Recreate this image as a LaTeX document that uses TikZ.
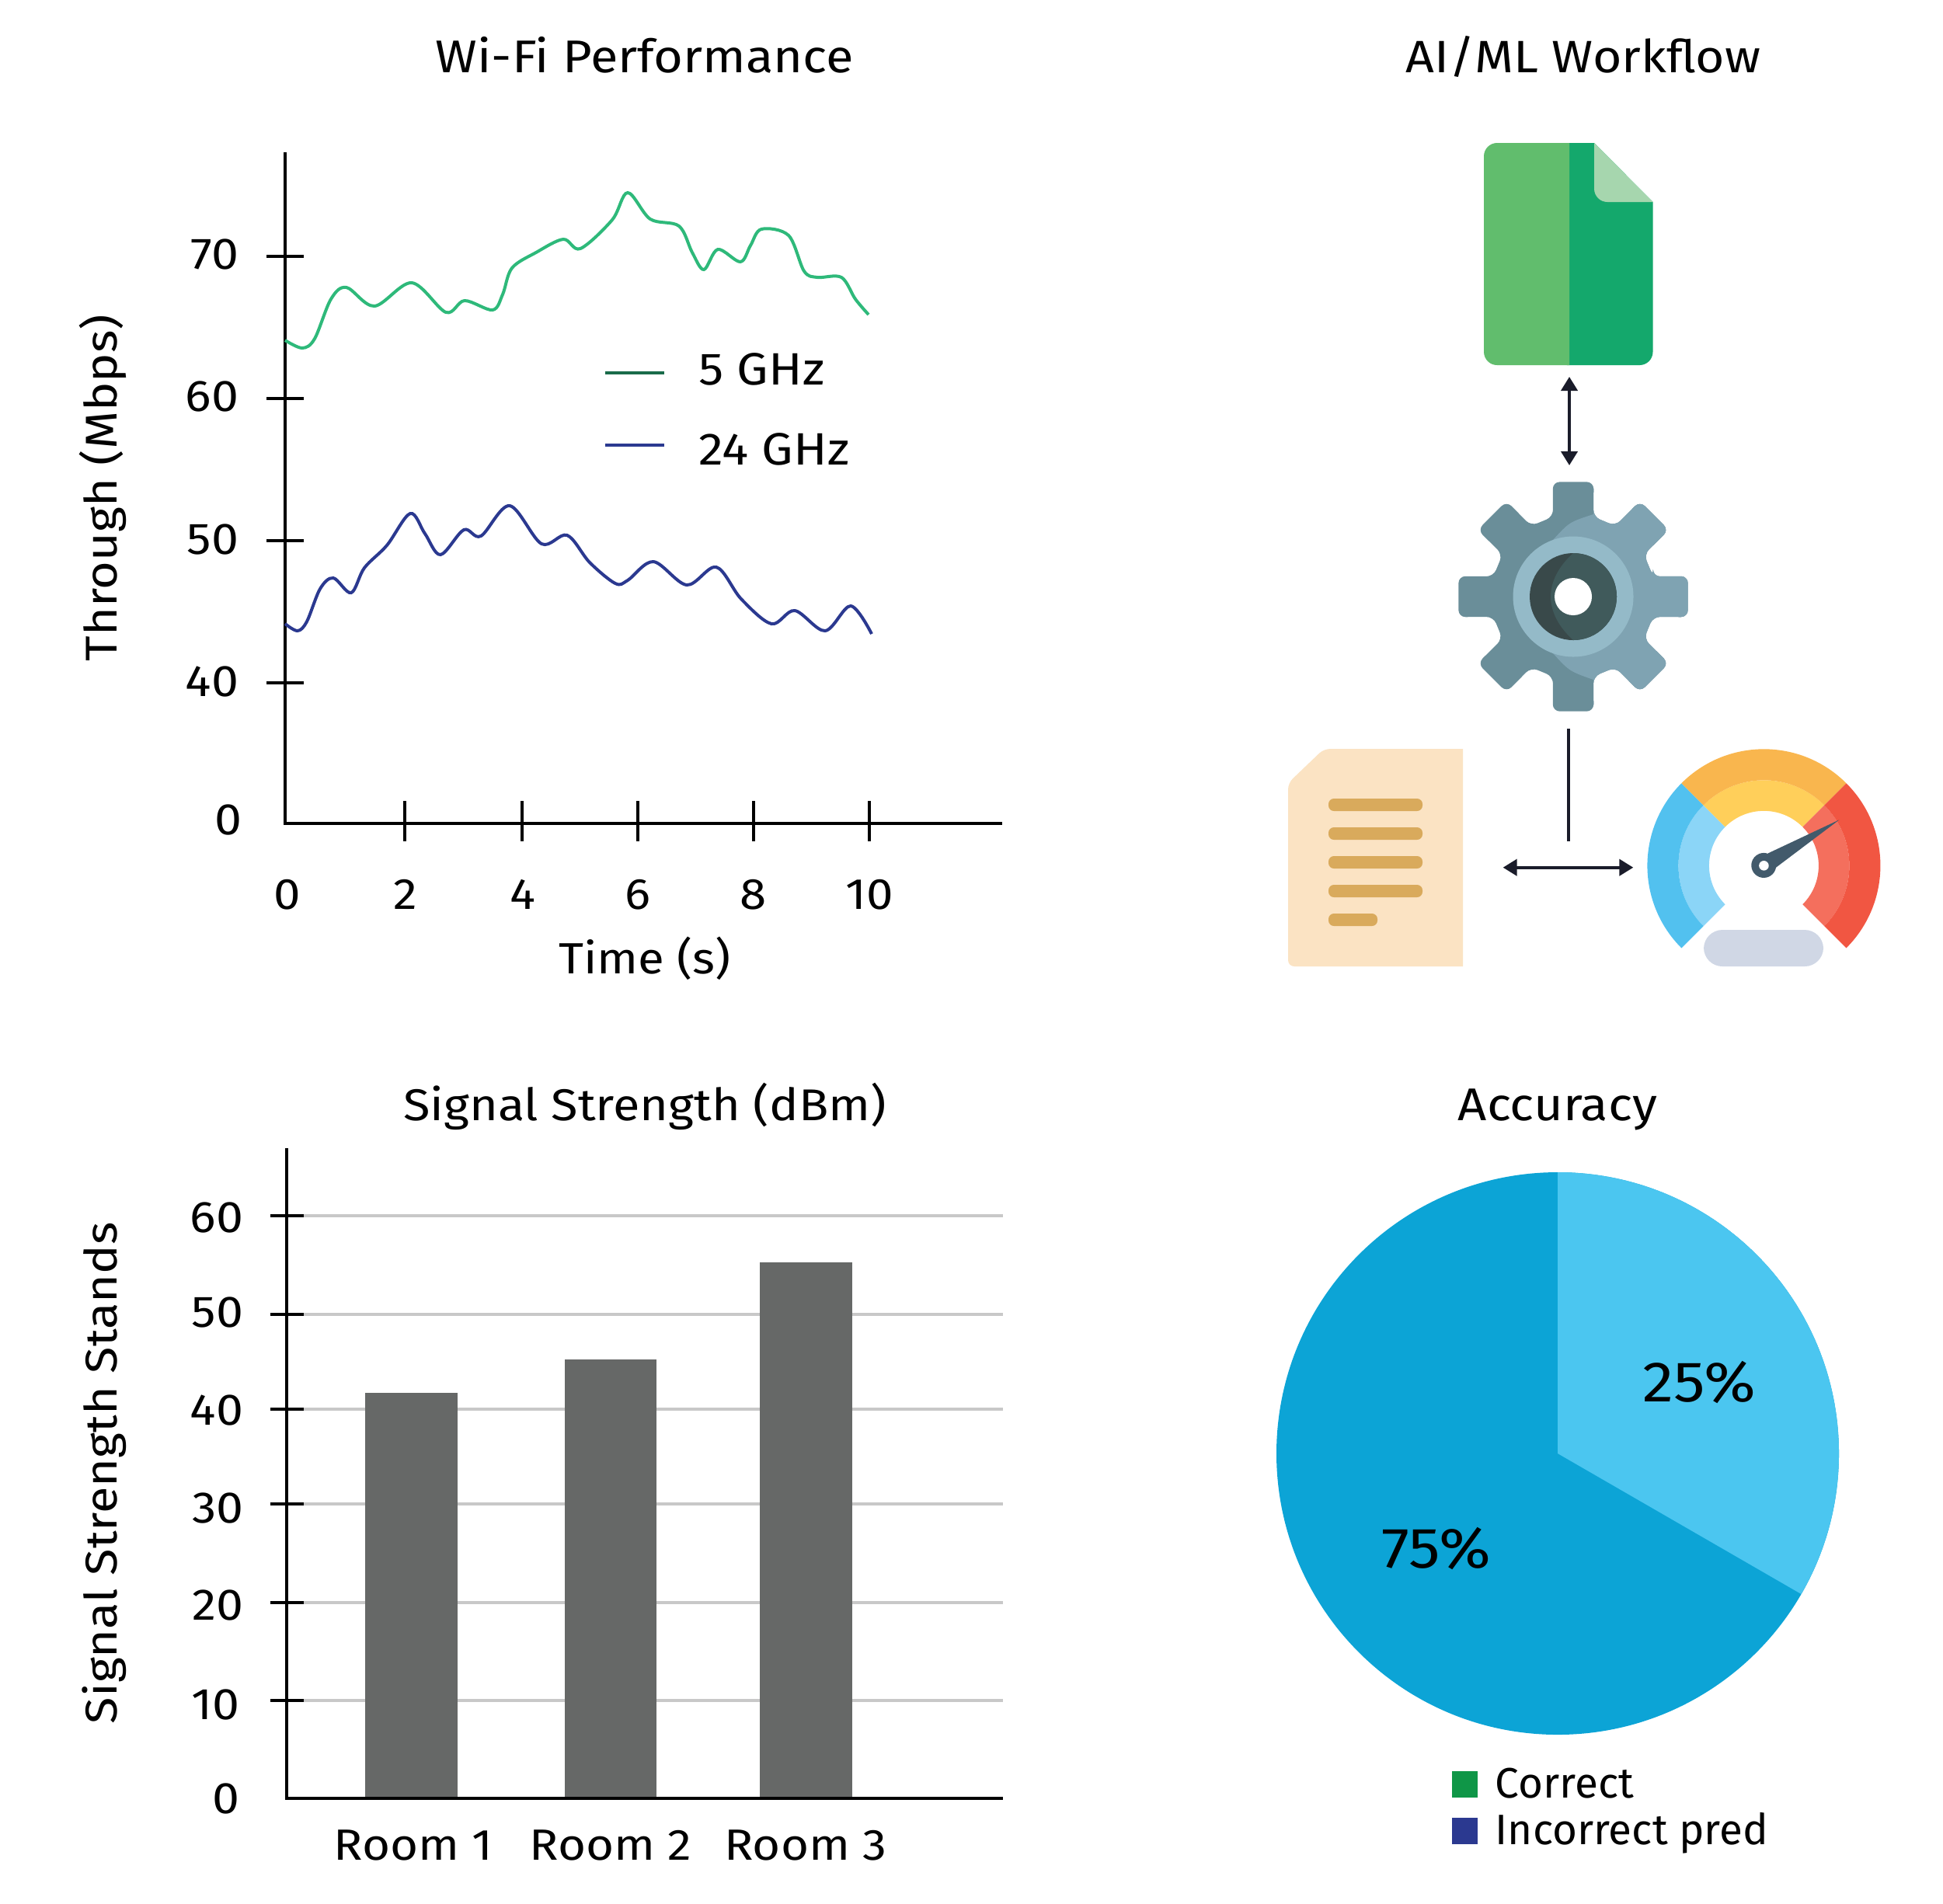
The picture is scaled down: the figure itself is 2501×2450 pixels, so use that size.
\documentclass[tikz,border=0pt]{standalone}
\usepackage{fontspec}
\setmainfont{Fira Sans}[FakeStretch=1.1]
\newfontfamily\keyfont{Fira Sans}
\usetikzlibrary{arrows.meta}

\definecolor{greenline}{HTML}{2EB97A}
\definecolor{greenkey}{HTML}{1A6B4A}
\definecolor{blueline}{HTML}{2B3990}
\definecolor{gridgray}{HTML}{C8C8C8}
\definecolor{bargray}{HTML}{666867}
\definecolor{piedark}{HTML}{0CA4D6}
\definecolor{pielight}{HTML}{4BC6F0}
\definecolor{keygreen}{HTML}{0F9647}
\definecolor{filelight}{HTML}{61BD6D}
\definecolor{filedark}{HTML}{14A86C}
\definecolor{filefold}{HTML}{A6D6AE}
\definecolor{gearleft}{HTML}{6A8E99}
\definecolor{gearright}{HTML}{7FA3B2}
\definecolor{gearring}{HTML}{94BAC8}
\definecolor{holeleft}{HTML}{39494A}
\definecolor{holeright}{HTML}{405A5B}
\definecolor{docpaper}{HTML}{FBE3C3}
\definecolor{docline}{HTML}{D9AA5C}
\definecolor{arrowink}{HTML}{1A1C2A}
\definecolor{gaugesky}{HTML}{8BD5F7}
\definecolor{gaugeblue}{HTML}{52C1EF}
\definecolor{gaugeyellow}{HTML}{FFCF5A}
\definecolor{gaugeorange}{HTML}{F9B64E}
\definecolor{gaugecoral}{HTML}{F46F5D}
\definecolor{gaugered}{HTML}{F15642}
\definecolor{gaugeink}{HTML}{425A6B}
\definecolor{gaugebase}{HTML}{D0D7E5}

\tikzset{
  axisline/.style={line width=0.04cm, black},
  gridline/.style={line width=0.04cm, gridgray},
  titletext/.style={anchor=base, inner sep=0pt, font=\fontsize{16.8}{20}\selectfont},
  ticktext/.style={anchor=base east, inner sep=0pt, font=\fontsize{16.2}{20}\selectfont},
  xticktext/.style={anchor=base, inner sep=0pt, font=\fontsize{16}{20}\selectfont},
  sidetext/.style={anchor=base, inner sep=0pt, rotate=90, font=\fontsize{16.3}{20}\selectfont},
  keytext/.style={anchor=base west, inner sep=0pt, font=\fontsize{16.6}{20}\selectfont},
  pietext/.style={anchor=base, inner sep=0pt, font=\fontsize{20.9}{24}\selectfont},
  piekeytext/.style={anchor=base west, inner sep=0pt, font=\keyfont\fontsize{15.6}{20}\selectfont},
  flowarrow/.style={line width=0.04cm, arrowink, {Triangle[length=0.18cm,width=0.21cm]}-{Triangle[length=0.18cm,width=0.21cm]}},
}

% one tooth ring of the gear, used for filling and for clipping
\newcommand{\gearoutline}{(-14.2:106) foreach \a in {0,45,...,315} {-- (\a-14.2:106) -- (\a-10.1:150) -- (\a+10.1:150) -- (\a+14.2:106)} -- cycle}
% one coloured band of the gauge
\newcommand{\gaugeband}[5]{\fill[#5] (#1:#3) -- (#1:#4) arc[start angle=#1, end angle=#2, radius=#4] -- (#2:#3) arc[start angle=#2, end angle=#1, radius=#3] -- cycle;}

\begin{document}
\begin{tikzpicture}[x=0.01cm, y=-0.01cm]
  \useasboundingbox (0,0) rectangle (2501,2450);

  % Draw titles
  \node[titletext] (wifititle) at (830,93) {Wi-Fi Performance};
  \node[titletext, font=\fontsize{16.6}{20}\selectfont] (flowtitle) at (2038,93) {AI/ML Workflow};
  \node[titletext, font=\fontsize{16.3}{20}\selectfont] (signaltitle) at (830,1442) {Signal Strength (dBm)};
  \node[titletext] (acctitle) at (2005,1442) {Accuracy};

  % Draw line chart axes
  \draw[axisline] (367,196) -- (367,1060) -- (1290,1060);
  \draw[axisline] (343,330) -- (391,330);
  \draw[axisline] (343,513) -- (391,513);
  \draw[axisline] (343,696) -- (391,696);
  \draw[axisline] (343,879) -- (391,879);
  \draw[axisline] (521,1031) -- (521,1083);
  \draw[axisline] (672,1031) -- (672,1083);
  \draw[axisline] (821,1031) -- (821,1083);
  \draw[axisline] (970,1031) -- (970,1083);
  \draw[axisline] (1119,1031) -- (1119,1083);
  \node[ticktext] (ytick70) at (308,346) {70};
  \node[ticktext] (ytick60) at (308,529) {60};
  \node[ticktext] (ytick50) at (308,713) {50};
  \node[ticktext] (ytick40) at (308,896) {40};
  \node[ticktext] (ytick0) at (312,1074) {0};
  \node[xticktext] (xtick0) at (370,1170) {0};
  \node[xticktext] (xtick2) at (522,1170) {2};
  \node[xticktext] (xtick4) at (673,1170) {4};
  \node[xticktext] (xtick6) at (821,1170) {6};
  \node[xticktext] (xtick8) at (970,1170) {8};
  \node[xticktext] (xtick10) at (1119,1170) {10};
  \node[xticktext] (timelabel) at (830,1253) {Time (s)};
  \node[sidetext] (thrulabel) at (150,628) {Through (Mbps)};

  % Draw curves
  \draw[line width=0.04cm, greenline] plot[smooth, tension=0.55] coordinates {
    (367,438) (389,448) (405,436) (426,385) (446,370) (482,394) (530,364) (574,402)
    (598,387) (634,399) (647,379) (659,345) (690,325) (725,308) (747,320) (788,283)
    (808,248) (837,282) (874,291) (891,325) (906,347) (924,321) (953,337) (966,316)
    (980,295) (1015,303) (1035,349) (1052,357) (1083,357) (1101,385) (1118,405)};
  \draw[line width=0.04cm, blueline] plot[smooth, tension=0.55] coordinates {
    (367,803) (383,812) (395,800) (412,758) (429,744) (452,763) (469,731) (498,702)
    (528,661) (547,687) (567,714) (597,682) (619,690) (656,651) (697,700) (730,689)
    (759,724) (792,751) (808,747) (841,723) (884,753) (922,730) (954,771) (993,803)
    (1023,786) (1062,812) (1095,780) (1122,816)};

  % Draw curve legend
  \draw[line width=0.04cm, greenkey] (779,480) -- (855,480);
  \draw[line width=0.04cm, blueline] (779,573) -- (855,573);
  \node[keytext] (key5) at (899,495) {5 GHz};
  \node[keytext] (key24) at (899,598) {24 GHz};

  % Draw bar chart
  \draw[gridline] (391,1565) -- (1291,1565);
  \draw[gridline] (391,1692) -- (1291,1692);
  \draw[gridline] (391,1814) -- (1291,1814);
  \draw[gridline] (391,1936) -- (1291,1936);
  \draw[gridline] (391,2063) -- (1291,2063);
  \draw[gridline] (391,2189) -- (1291,2189);
  \fill[bargray] (470,1793) rectangle (589,2315);
  \fill[bargray] (727,1750) rectangle (845,2315);
  \fill[bargray] (978,1625) rectangle (1097,2315);
  \draw[axisline] (369,1478) -- (369,2315) -- (1291,2315);
  \draw[axisline] (348,1565) -- (391,1565);
  \draw[axisline] (348,1692) -- (391,1692);
  \draw[axisline] (348,1814) -- (391,1814);
  \draw[axisline] (348,1936) -- (391,1936);
  \draw[axisline] (348,2063) -- (391,2063);
  \draw[axisline] (348,2189) -- (391,2189);
  \node[ticktext] (btick60) at (314,1586) {60};
  \node[ticktext] (btick50) at (314,1708) {50};
  \node[ticktext] (btick40) at (314,1834) {40};
  \node[ticktext] (btick30) at (314,1960) {30};
  \node[ticktext] (btick20) at (314,2085) {20};
  \node[ticktext] (btick10) at (309,2213) {10};
  \node[ticktext] (btick0) at (309,2334) {0};
  \node[xticktext] (room1) at (532,2394) {Room 1};
  \node[xticktext] (room2) at (786,2394) {Room 2};
  \node[xticktext] (room3) at (1037,2394) {Room 3};
  \node[sidetext] (signallabel) at (150,1896) {Signal Strength Stands};

  % Draw pie
  \fill[piedark] (2005,1871) circle (362);
  \fill[pielight] (2005,1871) -- (2005,1509) arc[start angle=-90, end angle=30, radius=362] -- cycle;
  \node[pietext] (pie25) at (2187,1804) {25\%};
  \node[pietext] (pie75) at (1849,2018) {75\%};
  \fill[keygreen] (1869,2280) rectangle (1902,2314);
  \fill[blueline] (1869,2340) rectangle (1902,2374);
  \node[piekeytext] (keyok) at (1924,2314) {Correct};
  \node[piekeytext] (keybad) at (1924,2374) {Incorrect pred};

  % Draw green file
  \fill[filedark] (2000,184) -- (2052,184) -- (2127.5,260) [rounded corners=0.17cm] -- (2127.5,470) -- (2000,470) [sharp corners] -- cycle;
  \fill[filelight] (2020,184) [rounded corners=0.17cm] -- (1910,184) -- (1910,470) [sharp corners] -- (2020,470) -- cycle;
  \fill[filefold] (2052,184) -- (2127.5,260) [rounded corners=0.17cm] -- (2052,260) [sharp corners] -- cycle;

  % Draw gear
  \begin{scope}[shift={(2025,768)}]
    \fill[gearleft, rounded corners=0.09cm] \gearoutline;
    \begin{scope}
      \clip[rounded corners=0.09cm] \gearoutline;
      \fill[gearright] (26,-170) -- (26,-106) .. controls (-5,-96) .. (-26,-73) -- (-26,73) .. controls (-5,96) .. (26,107) -- (26,170) -- (170,170) -- (170,-170) -- cycle;
    \end{scope}
    \fill[gearring] (0,0) circle (77.5);
    \fill[holeleft] (0,0) circle (56);
    \begin{scope}
      \clip (0,0) circle (56);
      \fill[holeright] (0,-56) .. controls (-20,-38) and (-29,-18) .. (-29,0) .. controls (-29,18) and (-20,38) .. (0,56) -- (60,56) -- (60,-56) -- cycle;
    \end{scope}
    \fill[white] (0,0) circle (24);
  \end{scope}

  % Draw document
  \fill[docpaper] (1883,964) -- (1883,1244) [rounded corners=0.08cm] -- (1658,1244) -- (1658,1008) -- (1704,964) [sharp corners] -- cycle;
  \fill[docline, rounded corners=0.07cm] (1710,1028) rectangle (1831,1044);
  \fill[docline, rounded corners=0.07cm] (1710,1065) rectangle (1831,1081);
  \fill[docline, rounded corners=0.07cm] (1710,1102) rectangle (1831,1118);
  \fill[docline, rounded corners=0.07cm] (1710,1139) rectangle (1831,1155);
  \fill[docline, rounded corners=0.07cm] (1710,1176) rectangle (1773,1192);

  % Draw gauge
  \begin{scope}[shift={(2270.4,1114.3)}]
    \gaugeband{135}{225}{70.5}{110}{gaugesky}
    \gaugeband{135}{225}{110}{150}{gaugeblue}
    \gaugeband{225}{315}{70.5}{110}{gaugeyellow}
    \gaugeband{225}{315}{110}{150}{gaugeorange}
    \gaugeband{315}{405}{70.5}{110}{gaugecoral}
    \gaugeband{315}{405}{110}{150}{gaugered}
    \fill[gaugeink] (5.6,-16) -- (97,-59) -- (15.6,2.4) arc[start angle=10, end angle=290, radius=16] -- cycle;
    \fill[white] (0,0) circle (6.3);
  \end{scope}
  \fill[gaugebase, rounded corners=0.24cm] (2193,1197) rectangle (2347,1244);

  % Draw arrows
  \coordinate (fileend) at (2020,485);
  \coordinate (gearend) at (2020,599);
  \coordinate (stemtop) at (2018.5,938);
  \coordinate (stembot) at (2018.5,1083);
  \coordinate (docend) at (1934.6,1116.7);
  \coordinate (gaugeend) at (2102.3,1116.7);
  \draw[flowarrow] (fileend) -- (gearend);
  \draw[line width=0.04cm, arrowink] (stemtop) -- (stembot);
  \draw[flowarrow] (docend) -- (gaugeend);
\end{tikzpicture}
\end{document}
